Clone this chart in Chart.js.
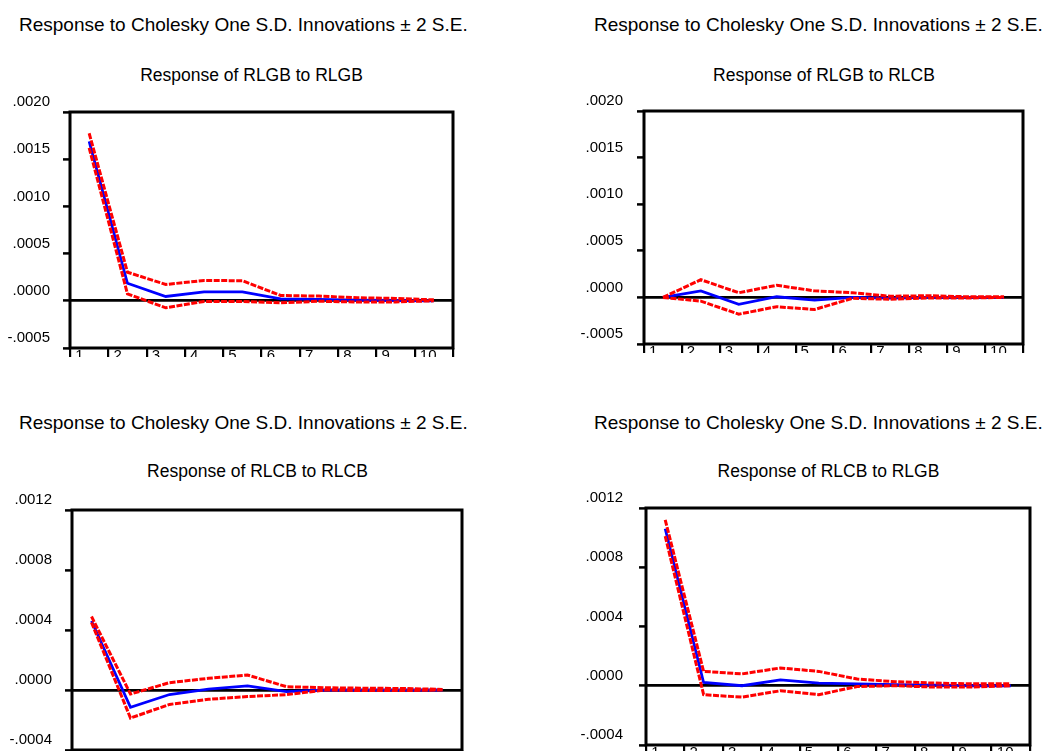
<!DOCTYPE html>
<html><head><meta charset="utf-8">
<script src="https://cdn.jsdelivr.net/npm/chart.js@4.4.1/dist/chart.umd.min.js"></script>
<style>
html,body{margin:0;padding:0;background:#fff;}
body{width:1057px;height:751px;position:relative;overflow:hidden;font-family:"Liberation Sans",Arial,sans-serif;color:#000;}
.t{position:absolute;font-size:19px;line-height:1;white-space:nowrap;}
.s{position:absolute;font-size:17.5px;line-height:1;white-space:nowrap;width:400px;text-align:center;}
.w{position:absolute;overflow:hidden;}
.w canvas{position:absolute;left:0;top:0;}
</style></head><body>
<div class="t" id="t1" style="left:19px;top:14.6px"></div>
<div class="t" id="t2" style="left:594px;top:14.6px"></div>
<div class="t" id="t3" style="left:19px;top:412.6px"></div>
<div class="t" id="t4" style="left:594px;top:412.6px"></div>
<div class="s" id="s1" style="left:51.5px;top:67.2px"></div>
<div class="s" id="s2" style="left:624px;top:67.2px"></div>
<div class="s" id="s3" style="left:57.5px;top:463.2px"></div>
<div class="s" id="s4" style="left:628.5px;top:463.2px"></div>
<div class="w" id="w1"><canvas id="c1"></canvas></div>
<div class="w" id="w2"><canvas id="c2"></canvas></div>
<div class="w" id="w3"><canvas id="c3"></canvas></div>
<div class="w" id="w4"><canvas id="c4"></canvas></div>
<script>
// ---- data ----
const periods = ['1','2','3','4','5','6','7','8','9','10'];
const mainTitle = 'Response to Cholesky One S.D. Innovations \u00B1 2 S.E.';
const panelTitles = ['Response of RLGB to RLGB','Response of RLGB to RLCB','Response of RLCB to RLCB','Response of RLCB to RLGB'];

const yTicksRLGB = [-0.0005, 0.0000, 0.0005, 0.0010, 0.0015, 0.0020];
const yTicksRLCB = [-0.0004, 0.0000, 0.0004, 0.0008, 0.0012];

const rlgbToRlgb      = [0.00169, 0.000186, 0.000046, 0.000095, 0.000095, 0.000021, 0.000015, 0.000008, 0.000003, 0.0];
const rlgbToRlgbUpper = [0.001775, 0.000303, 0.000173, 0.000215, 0.000213, 0.000056, 0.00005, 0.000032, 0.000025, 0.00001];
const rlgbToRlgbLower = [0.00162, 0.000074, -0.000074, -0.000007, -0.000007, -0.000021, -0.000005, -0.000012, -0.000012, 0.0];

const rlgbToRlcb      = [0.0, 0.00007, -0.000075, 0.000007, -0.00003, 0.0, -0.000007, 0.0, 0.0, 0.0];
const rlgbToRlcbUpper = [0.0, 0.00019, 0.00005, 0.00013, 0.00007, 0.00005, 0.000012, 0.000018, 0.000007, 0.000007];
const rlgbToRlcbLower = [0.0, -0.00004, -0.00018, -0.0001, -0.00013, -0.00001, -0.00002, -0.000007, -0.000007, 0.0];

const rlcbToRlcb      = [0.00046, -0.000115, -0.00003, 0.000006, 0.000027, -0.000011, 0.0, 0.0, 0.0, 0.0];
const rlcbToRlcbUpper = [0.00049, -0.000027, 0.000049, 0.000078, 0.0001, 0.000022, 0.000015, 0.000012, 0.00001, 0.000004];
const rlcbToRlcbLower = [0.00045, -0.000187, -0.000096, -0.000062, -0.000044, -0.000031, 0.0, -0.000004, -0.000004, 0.0];

const rlcbToRlgb      = [0.00106, 0.000022, 0.0, 0.00004, 0.000018, 0.000013, 0.000007, 0.000004, 0.0, 0.0];
const rlcbToRlgbUpper = [0.00112, 0.000097, 0.00008, 0.00012, 0.000097, 0.000045, 0.000027, 0.000018, 0.000013, 0.000013];
const rlcbToRlgbLower = [0.00101, -0.00006, -0.000077, -0.000034, -0.00006, -0.000005, 0.0, -0.000009, -0.000009, 0.0];

// ---- texts ----
['t1','t2','t3','t4'].forEach(id => document.getElementById(id).textContent = mainTitle);
['s1','s2','s3','s4'].forEach((id,i) => document.getElementById(id).textContent = panelTitles[i]);

const FONT = '"Liberation Sans", Arial, sans-serif';
function fmt(v){ if (Math.abs(v) < 1e-12) v = 0; return v.toFixed(4).replace(/^(-?)0\./, '$1.'); }

const boxPlugin = {
  id: 'box',
  afterDatasetsDraw(chart){
    const a = chart.chartArea, c = chart.ctx;
    c.save(); c.strokeStyle = '#000'; c.lineWidth = 3;
    c.strokeRect(a.left, a.top, a.right - a.left, a.bottom - a.top);
    c.restore();
  }
};

// layout (page coords)
const panels = [
  {id:'1', wl:0,   wt:80,  ww:470, clip:357, L:70,  T:112, R:453,  B:348, labelRight:50,  yTicks:yTicksRLGB, resp:rlgbToRlgb, up:rlgbToRlgbUpper, lo:rlgbToRlgbLower},
  {id:'2', wl:560, wt:80,  ww:497, clip:353, L:644, T:111, R:1023, B:344, labelRight:623, yTicks:yTicksRLGB, resp:rlgbToRlcb, up:rlgbToRlcbUpper, lo:rlgbToRlcbLower},
  {id:'3', wl:0,   wt:480, ww:470, clip:751, L:72,  T:510, R:462,  B:750, labelRight:52,  yTicks:yTicksRLCB, resp:rlcbToRlcb, up:rlcbToRlcbUpper, lo:rlcbToRlcbLower},
  {id:'4', wl:560, wt:480, ww:497, clip:751, L:646, T:508, R:1030, B:745, labelRight:623, yTicks:yTicksRLCB, resp:rlcbToRlgb, up:rlcbToRlgbUpper, lo:rlcbToRlgbLower}
];

panels.forEach(p => {
  const w = document.getElementById('w' + p.id);
  const cv = document.getElementById('c' + p.id);
  const XH = 30;
  const cw = p.ww, ch = (p.B - p.wt) + XH;
  w.style.left = p.wl + 'px'; w.style.top = p.wt + 'px';
  w.style.width = p.ww + 'px'; w.style.height = (p.clip - p.wt) + 'px';
  cv.width = cw; cv.height = ch; cv.style.width = cw + 'px'; cv.style.height = ch + 'px';
  const redStyle = {borderColor:'#ff0000', borderWidth:3, borderDash:[6,1.5], pointRadius:0, tension:0, fill:false};
  new Chart(cv, {
    type: 'line',
    data: {
      labels: periods,
      datasets: [
        Object.assign({label:'+2 S.E.', data:p.up}, redStyle),
        Object.assign({label:'-2 S.E.', data:p.lo}, redStyle),
        {label:'Response', data:p.resp, borderColor:'#0000ff', borderWidth:2.8, pointRadius:0, tension:0, fill:false}
      ]
    },
    options: {
      responsive:false, animation:false, devicePixelRatio:1,
      layout:{padding:{left:0, top:p.T - p.wt, right:cw - (p.R - p.wl), bottom:0}},
      plugins:{legend:{display:false}, tooltip:{enabled:false}, title:{display:false}},
      scales:{
        x:{
          type:'category', offset:true,
          grid:{offset:true, drawOnChartArea:false, drawTicks:true, tickLength:10, tickWidth:2.2, tickColor:'#000', color:'#000', lineWidth:2.2},
          border:{display:false},
          ticks:{align:'start', labelOffset:-14, padding:-11, autoSkip:false, maxRotation:0, minRotation:0, color:'#000', font:{family:FONT, size:15}},
          afterFit: s => { s.height = XH; }
        },
        y:{
          min:p.yTicks[0], max:p.yTicks[p.yTicks.length-1],
          afterBuildTicks: s => { s.ticks = p.yTicks.map(v => ({value:v})); },
          grid:{drawOnChartArea:true, drawTicks:true, tickLength:7, tickWidth:2.5, tickColor:'#000', lineWidth:2.8,
                color: c => (c.tick && Math.abs(c.tick.value) < 1e-12) ? '#000' : 'rgba(0,0,0,0)'},
          border:{display:false},
          ticks:{padding:(p.L - p.labelRight) - 7, labelOffset:-10, color:'#000', font:{family:FONT, size:15}, callback: v => fmt(v)},
          afterFit: s => { s.width = p.L - p.wl; }
        }
      }
    },
    plugins:[boxPlugin]
  });
});
</script>
</body></html>
